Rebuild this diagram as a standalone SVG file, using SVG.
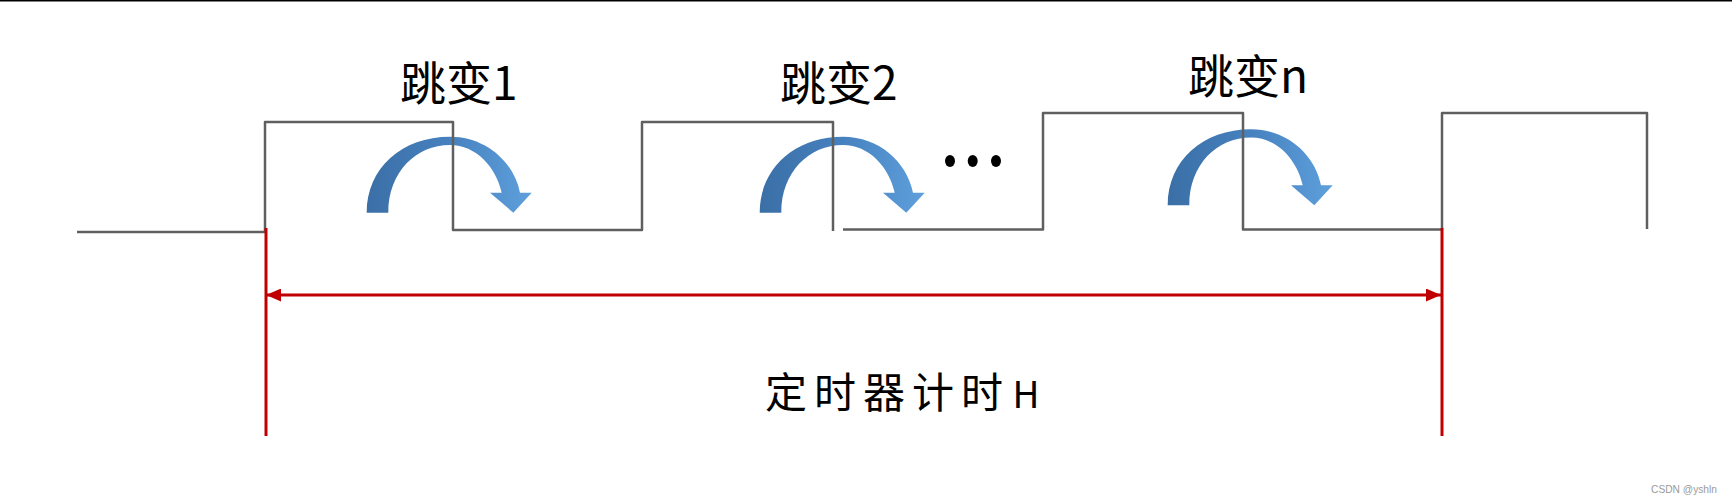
<svg xmlns="http://www.w3.org/2000/svg" width="1732" height="503" viewBox="0 0 1732 503">
  <style>
    .wave { fill: none; stroke: #5f5f5f; stroke-width: 2.5; stroke-linejoin: round; }
    .red { fill: none; stroke: #c00000; stroke-width: 3; }
    .lbl { font-family: "Noto Sans CJK SC", "Noto Sans", sans-serif; fill: #000; }
    .wm { font-family: "Liberation Sans", Arial, sans-serif; fill: #9a9a9a; font-size: 11px; }
  </style>
  <defs>
    <linearGradient id="blueGrad" x1="0" y1="0" x2="1" y2="0">
      <stop offset="0" stop-color="#3b6fa6"/>
      <stop offset="0.5" stop-color="#4681bf"/>
      <stop offset="1" stop-color="#5ea0dc"/>
    </linearGradient>
    <path id="curveArrow" fill="url(#blueGrad)" d="M366.7,212.7 C366.7,168 402,136.7 450,136.7 C486,136.7 514,162 520,192.7 L531.7,192.7 L513.3,212.7 L490,192.7 L501.7,192.7 C496,167 476,145 450,145 C416,145 388.3,172 388.3,212.7 Z"/>
    <marker id="redHead" viewBox="0 0 15 13" refX="15" refY="6.5" markerWidth="15" markerHeight="13" markerUnits="userSpaceOnUse" orient="auto-start-reverse">
      <path d="M0,0 L15,6.5 L0,13 Z" fill="#c00000"/>
    </marker>
  </defs>

  <rect x="0" y="0" width="1732" height="503" fill="#ffffff"/>
  <rect x="0" y="0" width="1732" height="1.5" fill="#000000"/>

  <g id="jump1-arrow"><use href="#curveArrow"/></g>
  <g id="jump2-arrow"><use href="#curveArrow" transform="translate(393,0)"/></g>
  <g id="jumpn-arrow"><use href="#curveArrow" transform="translate(801,-7.5)"/></g>

  <g id="waveform">
    <path class="wave" d="M77,232 H265 V122 H453 V230 H642 V122 H833 V231"/>
    <path class="wave" d="M843,229.5 H1043 V113 H1243 V229.5 H1442 V113 H1647 V229"/>
  </g>

  <g id="ellipsis">
    <ellipse cx="950" cy="161" rx="5" ry="6" fill="#000"/>
    <ellipse cx="972.7" cy="161" rx="5" ry="6" fill="#000"/>
    <ellipse cx="996" cy="161" rx="5" ry="6" fill="#000"/>
  </g>

  <g id="label-jump1"><text class="lbl" x="400" y="100" font-size="46">跳变1</text></g>
  <g id="label-jump2"><text class="lbl" x="780" y="100" font-size="46">跳变2</text></g>
  <g id="label-jumpn"><text class="lbl" x="1188" y="93" font-size="46">跳变n</text></g>

  <g id="connectors">
    <line class="red" x1="266" y1="228" x2="266" y2="436"/>
    <line class="red" x1="1442" y1="228" x2="1442" y2="436"/>
    <line class="red" x1="266" y1="295" x2="1441" y2="295" marker-start="url(#redHead)" marker-end="url(#redHead)"/>
  </g>

  <g id="label-timer">
    <text class="lbl" x="765" y="408" font-size="42"><tspan letter-spacing="7">定时器计</tspan>时 <tspan font-size="37">H</tspan></text>
  </g>

  <g id="watermark"><text class="wm" x="1651" y="493" textLength="66" lengthAdjust="spacingAndGlyphs">CSDN @yshln</text></g>
</svg>
